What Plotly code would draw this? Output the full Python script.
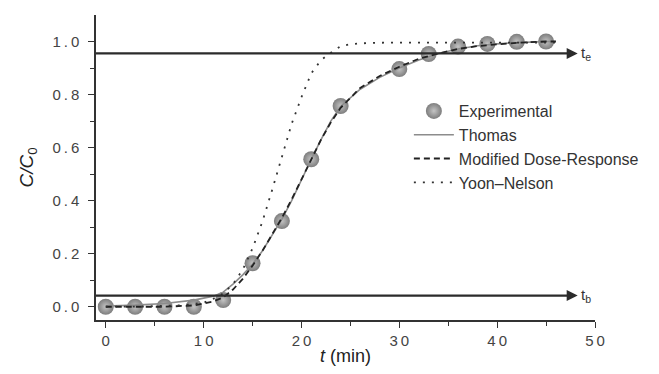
import plotly.graph_objects as go

# Experimental data
t_exp = [0, 3, 6, 9, 12, 15, 18, 21, 24, 30, 33, 36, 39, 42, 45]
c_exp = [0.0, 0.0, 0.0, 0.0, 0.025, 0.164, 0.323, 0.556, 0.757, 0.896, 0.953, 0.981, 0.991, 0.999, 1.0]

# Model curves
t_th = [0, 3, 6, 9, 11, 12, 13, 14, 15, 16, 17, 18, 19, 20, 21, 22, 23, 24, 26, 28, 30, 32, 34, 36, 38, 40, 42, 45, 46]
c_th = [0.003, 0.006, 0.012, 0.025, 0.04, 0.055, 0.085, 0.12, 0.16, 0.21, 0.27, 0.33, 0.40, 0.48, 0.556,
        0.63, 0.70, 0.755, 0.82, 0.865, 0.90, 0.93, 0.955, 0.972, 0.984, 0.991, 0.996, 1.0, 1.0]

t_dr = [0, 3, 6, 9, 11, 12, 13, 14, 15, 16, 17, 18, 19, 20, 21, 22, 23, 24, 26, 28, 30, 32, 34, 36, 38, 40, 42, 45, 46]
c_dr = [0.0, 0.0, 0.0, 0.005, 0.02, 0.035, 0.065, 0.105, 0.155, 0.21, 0.27, 0.335, 0.405, 0.48, 0.556,
        0.63, 0.695, 0.75, 0.825, 0.87, 0.905, 0.935, 0.955, 0.972, 0.983, 0.99, 0.995, 1.0, 1.0]

t_yn = [0, 4, 8, 10, 11, 12, 13, 14, 15, 16, 17, 18, 19, 20, 21, 22, 23, 24, 25, 27, 30, 46]
c_yn = [0.0, 0.001, 0.006, 0.015, 0.03, 0.05, 0.085, 0.14, 0.22, 0.32, 0.44, 0.57, 0.69, 0.79, 0.88,
        0.93, 0.958, 0.982, 0.99, 0.995, 0.996, 0.996]

x_ticks = [0, 10, 20, 30, 40, 50]
y_ticks = [0.0, 0.2, 0.4, 0.6, 0.8, 1.0]
y_te = 0.955
y_tb = 0.042

TS = "\u2009"
def spaced(s):
    return TS.join(list(s))

fig = go.Figure()

fig.add_trace(go.Scatter(
    x=t_exp, y=c_exp, mode="markers", name="Experimental", legendrank=1,
    marker=dict(symbol="circle", size=16, color="#7d7d7d",
                gradient=dict(type="radial", color="#c4c4c4"),
                line=dict(width=0)),
))
fig.add_trace(go.Scatter(
    x=t_th, y=c_th, mode="lines", name="Thomas", legendrank=2,
    line=dict(color="#8c8c8c", width=1.6),
))
fig.add_trace(go.Scatter(
    x=t_dr, y=c_dr, mode="lines", name="Modified Dose-Response", legendrank=3,
    line=dict(color="#222222", width=1.8, dash="6px,4px"),
))
fig.add_trace(go.Scatter(
    x=t_yn, y=c_yn, mode="lines", name="Yoon\u2013Nelson", legendrank=4,
    line=dict(color="#333333", width=1.8, dash="2px,7px"),
))

# horizontal arrows t_e and t_b (label at the arrow head side)
for yv, sub in [(y_te, "e"), (y_tb, "b")]:
    fig.add_annotation(x=-1, y=yv, ax=49.1, ay=yv, xref="x", yref="y", axref="x", ayref="y",
                       showarrow=True, arrowside="start", arrowhead=2, startarrowhead=2,
                       arrowsize=1.0, startarrowsize=1.0, arrowwidth=2.2, startstandoff=2,
                       arrowcolor="#2b2b2b",
                       text="t<sub>" + sub + "</sub>", font=dict(size=15, color="#333333"))

# The page body keeps its default 8px margin, so the figure is sized to fit
# the 659x374 window exactly (643 + 2*8, 358 + 2*8).
fig.update_layout(
    width=643, height=358, autosize=False,
    margin=dict(l=88, r=41, t=7, b=46),
    plot_bgcolor="white", paper_bgcolor="white",
    font=dict(family="Liberation Sans, Arial, sans-serif", color="#333333"),
    showlegend=True,
    legend=dict(x=0.627, y=0.741, xanchor="left", yanchor="top",
                bgcolor="rgba(0,0,0,0)", font=dict(size=16, color="#333333"),
                tracegroupgap=0, itemwidth=40),
    xaxis=dict(range=[-1, 50], showgrid=False, zeroline=False, showline=True, automargin=False,
               linecolor="#333333", linewidth=1.5, ticks="outside", ticklen=6,
               tickwidth=1.3, tickcolor="#333333",
               tickvals=x_ticks, ticktext=[spaced(str(v)) for v in x_ticks],
               tickfont=dict(size=15, color="#444444"),
               minor=dict(tickvals=[5, 15, 25, 35, 45], ticks="outside", ticklen=4,
                          tickwidth=1.2, tickcolor="#333333"),
               title=dict(text="<i>t</i> (min)", font=dict(size=18, color="#222222"), standoff=2)),
    yaxis=dict(range=[-0.05, 1.1], showgrid=False, zeroline=False, showline=True, automargin=False,
               linecolor="#333333", linewidth=1.5, ticks="outside", ticklen=6,
               tickwidth=1.3, tickcolor="#333333", ticklabelstandoff=6,
               tickvals=y_ticks, ticktext=[spaced(f"{v:.1f}") for v in y_ticks],
               tickfont=dict(size=15, color="#444444"),
               minor=dict(tickvals=[0.1, 0.3, 0.5, 0.7, 0.9], ticks="outside", ticklen=4,
                          tickwidth=1.2, tickcolor="#333333"),
               title=dict(text="<i>C/C</i><sub>0</sub>", font=dict(size=19, color="#222222"), standoff=14)),
)

fig.write_html("out.html", config={"displayModeBar": False, "responsive": False})
